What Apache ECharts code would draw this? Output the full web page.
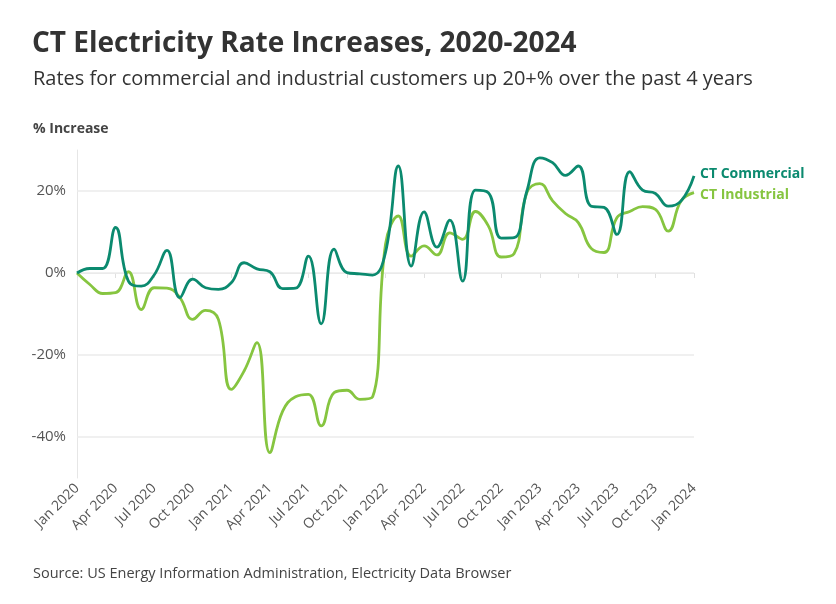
<!DOCTYPE html>
<html>
<head>
<meta charset="utf-8">
<script src="https://cdn.jsdelivr.net/npm/echarts@6/dist/echarts.min.js"></script>
<style>
html,body{margin:0;padding:0;background:#fff;}
#main{width:836px;height:604px;}
</style>
</head>
<body>
<div id="main"></div>
<script>
const months = ['Jan','Feb','Mar','Apr','May','Jun','Jul','Aug','Sep','Oct','Nov','Dec'];
const categories = [];
for (let y = 2020; y <= 2024; y++) {
  for (let m = 0; m < 12; m++) {
    if (y === 2024 && m > 0) break;
    categories.push(months[m] + ' ' + y);
  }
}
const commercial = [0, 1.1, 1.1, 11.1, -2.0, -3.2, -0.5, 5.5, -6.0, -1.5, -3.6, -4.0,
  -2.4, 2.5, 1.0, 0.3, -3.8, -3.7, 4.1, -12.4, 5.8, 0.1, -0.2, -0.5,
  5.0, 26.1, 1.7, 14.9, 6.3, 12.9, -2.0, 20.2, 19.6, 8.5, 8.6, 20.0,
  28.1, 26.9, 23.8, 26.1, 16.3, 16.0, 9.4, 24.7, 20.2, 19.4, 16.3, 17.6,
  23.7];
const industrial = [0, -2.8, -5.0, -4.8, 0.3, -8.9, -3.6, -3.7, -6.0, -11.3, -9.1, -11.3,
  -28.4, -23.9, -17.0, -43.8, -33.7, -30.2, -29.6, -37.3, -29.2, -28.6, -30.8, -30.2,
  7.0, 13.9, 4.1, 6.6, 4.4, 9.8, 8.2, 15.0, 11.5, 3.9, 4.7, 19.6,
  21.8, 17.6, 14.5, 12.3, 6.0, 5.0, 13.5, 15.0, 16.2, 15.5, 10.2, 17.6,
  19.6];
const gridValues = [20, 0, -20, -40];

const FONT = '"Open Sans", "Noto Sans", sans-serif';
const chart = echarts.init(document.getElementById('main'));
chart.setOption({
  backgroundColor: '#fff',
  animation: false,
  title: [
    { text: 'CT Electricity Rate Increases, 2020-2024', left: 27, top: 25,
      textStyle: { fontFamily: FONT, fontSize: 28, fontWeight: 'bold', color: '#333' } },
    { text: 'Rates for commercial and industrial customers up 20+% over the past 4 years', left: 28, top: 64,
      textStyle: { fontFamily: FONT, fontSize: 20, fontWeight: 'normal', color: '#333' } },
    { text: '% Increase', left: 28, top: 117,
      textStyle: { fontFamily: FONT, fontSize: 14, fontWeight: 'bold', color: '#444' } },
    { text: 'Source: US Energy Information Administration, Electricity Data Browser', left: 28, top: 561,
      textStyle: { fontFamily: FONT, fontSize: 14.5, fontWeight: 'normal', color: '#444' } }
  ],
  grid: { left: 77, right: 142, top: 150, bottom: 126 },
  xAxis: {
    type: 'category',
    data: categories,
    boundaryGap: false,
    axisLine: { show: true, lineStyle: { color: '#e6e6e6', width: 1 } },
    axisTick: { show: true, interval: 2, length: 5, lineStyle: { color: '#e0e0e0' } },
    axisLabel: { interval: 2, rotate: 45, fontFamily: FONT, fontSize: 14, color: '#555', margin: 8 },
    splitLine: { show: false }
  },
  yAxis: {
    type: 'value',
    min: -50, max: 30, interval: 10,
    axisLine: { show: true, lineStyle: { color: '#e6e6e6', width: 1 } },
    axisTick: { show: false },
    splitLine: { show: false },
    axisLabel: {
      fontFamily: FONT, fontSize: 15, color: '#555', margin: 11,
      formatter: v => (v % 20 === 0 && v !== 30 && v !== -50) ? v + '%' : ''
    }
  },
  series: [
    {
      name: 'CT Commercial',
      type: 'line',
      data: commercial,
      smooth: 0.45,
      symbol: 'none',
      z: 3,
      lineStyle: { color: '#0b8a6f', width: 2.8 },
      itemStyle: { color: '#0b8a6f' },
      endLabel: { show: true, formatter: '{a}', color: '#0b8a6f', fontFamily: FONT,
        fontSize: 14, fontWeight: 'bold', distance: 6, offset: [0, -2] },
      markLine: {
        silent: true, symbol: 'none', label: { show: false },
        lineStyle: { color: '#ebebeb', width: 1.5, type: 'solid' },
        z: 1,
        data: gridValues.map(v => ({ yAxis: v }))
      }
    },
    {
      name: 'CT Industrial',
      type: 'line',
      data: industrial,
      smooth: 0.45,
      symbol: 'none',
      z: 2,
      lineStyle: { color: '#86c540', width: 2.8 },
      itemStyle: { color: '#86c540' },
      endLabel: { show: true, formatter: '{a}', color: '#86c540', fontFamily: FONT,
        fontSize: 14, fontWeight: 'bold', distance: 6, offset: [0, 2] }
    }
  ]
});
</script>
</body>
</html>
